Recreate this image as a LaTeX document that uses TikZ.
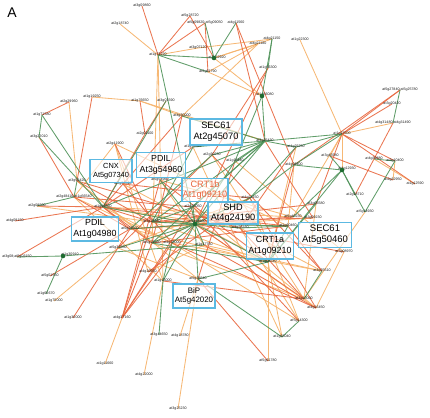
\documentclass[tikz,border=0pt]{standalone}
\usepackage{fontspec}
\setmainfont{Liberation Sans}
\definecolor{cred}{HTML}{E8673F}
\definecolor{corange}{HTML}{F6B46E}
\definecolor{cgreen}{HTML}{4F9259}
\definecolor{dotgreen}{HTML}{1E6B30}
\definecolor{boxblue}{HTML}{5CB9E2}
\pgfdeclarelayer{edges}
\pgfsetlayers{edges,main}
\tikzset{
 lbl/.style={font=\fontsize{3.6}{4}\selectfont, inner sep=0pt, text=black!90},
 hubdot/.style={circle, fill=dotgreen, inner sep=0pt, minimum size=4.6pt},
 pbox/.style={draw=boxblue, line width=1.3pt, align=center, inner sep=0pt, fill=white, fill opacity=0.6, text opacity=1},
 er/.style={cred, line width=0.85pt, opacity=0.9},
 eo/.style={corange, line width=0.85pt, opacity=0.95},
 eg/.style={cgreen, line width=0.85pt, opacity=0.9},
}
\begin{document}
\begin{tikzpicture}[x=1pt,y=-1pt]
\useasboundingbox (0,0) rectangle (430,417);
\node[font=\fontsize{14}{14}\selectfont] (panel) at (12,13) {A};
% labels (top)
\node[lbl] (a) at (142,6) {at3g09860};
\node[lbl] (b) at (120,24) {at2g18740};
\node[lbl] (c) at (190,16) {at5g28720};
\node[lbl] (d) at (205,23) {at5g09820;at5g09050};
\node[lbl] (e) at (236,23) {at4g11560};
\node[lbl] (f) at (158,55) {at1g71220};
\node[lbl] (g) at (198,48) {at3g07120};
\node[lbl] (hL) at (217,58) {at2g32920};
\node[hubdot] (h) at (214,58) {};
\node[lbl] (i) at (208,72) {at5g61790};
\node[lbl] (j) at (272,39) {at4g21150};
\node[lbl] (k) at (258,44) {at4g21180};
\node[lbl] (l) at (300,40) {at1g22300};
\node[lbl] (m) at (268,68) {at1g56300};
\node[lbl] (nL) at (265,95) {at1g56080};
\node[hubdot] (n) at (262,96) {};
% left
\node[lbl] (s) at (92,97) {at1g19250};
\node[lbl] (t) at (69,102) {at2g29960};
\node[lbl] (u) at (42,115) {at1g71580};
\node[lbl] (v) at (39,137) {at3g22010};
\node[lbl] (w) at (140,101) {at1g76650};
\node[lbl] (x) at (166,101) {at3g01590};
\node[lbl] (y) at (182,116) {at3g60000};
\node[lbl] (z) at (145,134) {at2g01100};
\node[lbl] (aa) at (193,147) {at1g30020};
\node[lbl] (ab) at (212,155) {at2g30230};
\node[lbl] (ac) at (235,161) {at1g15440};
\node[lbl] (ad) at (265,141) {at3g25430};
\node[lbl] (ae) at (160,180) {at5g54960};
\node[lbl] (af) at (115,144) {at2g41900};
\node[lbl] (ai) at (77,181) {at3g50420};
\node[lbl] (aj) at (123,184) {at5g07340};
\node[lbl] (ak) at (74,197) {at2g48410;at1g56540};
\node[lbl] (al) at (37,206) {at2g09500};
\node[lbl] (am) at (103,207) {at1g46550};
\node[lbl] (an) at (15,221) {at4g09150};
\node[lbl] (ao) at (152,222) {at3g28350};
\node[lbl] (ap) at (130,229) {at5g29550};
\node[lbl] (aqL) at (197,222) {at5g54600};
\node[hubdot] (aq) at (195,224) {};
\node[lbl] (ar) at (152,243) {at5g21030};
\node[lbl] (as) at (172,243) {at4g35000};
\node[lbl] (at) at (204,245) {at1g17750};
\node[lbl] (au) at (118,248) {at5g35550};
\node[lbl] (av) at (17,257) {at3g08;at5g03150};
\node[lbl] (awL) at (70,255) {at1g30910};
\node[hubdot] (aw) at (63,256) {};
\node[lbl] (ax) at (50,276) {at5g01550};
\node[lbl] (ay) at (148,272) {at4g20550};
\node[lbl] (az) at (193,207) {at2g35050};
\node[lbl] (ba) at (250,198) {at4g24150};
\node[lbl] (bb) at (240,228) {at3g55330};
\node[lbl] (bc) at (163,281) {at1g15000};
\node[lbl] (bd) at (198,279) {at5g38540};
% right / bottom
\node[lbl] (be) at (316,204) {at3g06580};
\node[lbl] (bf) at (365,212) {at5g14930};
\node[lbl] (bg) at (293,217) {at5g40230};
\node[lbl] (bh) at (288,226) {at1g60460};
\node[lbl] (bi) at (313,218) {at3g09230};
\node[lbl] (bj) at (344,252) {at3g08970};
\node[lbl] (bk) at (268,262) {at1g56540};
\node[lbl] (bl) at (322,271) {at4g25510};
\node[lbl] (bm) at (304,299) {at3g10000};
\node[lbl] (bn) at (316,308) {at4g16450};
\node[lbl] (bo) at (299,321) {at5g14300};
\node[lbl] (bp) at (282,337) {at1g65040};
\node[lbl] (bq) at (268,361) {at5g61780};
\node[lbl] (br) at (46,294) {at1g65670};
\node[lbl] (bs) at (54,301) {at1g75000};
\node[lbl] (bt) at (73,318) {at1g30000};
\node[lbl] (bu) at (122,318) {at4g37160};
\node[lbl] (bv) at (105,364) {at1g11660};
\node[lbl] (bw) at (144,375) {at4g22000};
\node[lbl] (bx) at (159,335) {at3g44650};
\node[lbl] (by) at (180,336) {at4g18780};
\node[lbl] (bz) at (178,409) {at3g25230};
\node[lbl] (o) at (400,90) {at5g27840;at5g25780};
\node[lbl] (p) at (392,104) {at3g20420};
\node[lbl] (q) at (393,123) {at4g31480;at4g31490};
\node[lbl] (r) at (342,134) {at1g27600};
\node[lbl] (ca) at (296,147) {at4g25250};
\node[lbl] (cb) at (330,156) {at3g45580};
\node[lbl] (cc) at (294,165) {at4g06400};
\node[lbl] (cdL) at (347,169) {at4g12930};
\node[hubdot] (cd) at (342,170) {};
\node[lbl] (ce) at (374,159) {at4g39880};
\node[lbl] (cf) at (395,161) {at3g10400};
\node[lbl] (cg) at (393,180) {at2g32950};
\node[lbl] (ch) at (415,184) {at1g12590};
\node[lbl] (ci) at (355,195) {at2g18710};
% boxes
\node[pbox, minimum width=52pt, minimum height=26pt, font=\fontsize{9.3}{11}\selectfont] (sec61a) at (216,132) {SEC61\\At2g45070};
\node[pbox, minimum width=49pt, minimum height=25pt, font=\fontsize{8.8}{10.5}\selectfont] (pdil3) at (161,165) {PDIL\\At3g54960};
\node[pbox, minimum width=42pt, minimum height=23pt, font=\fontsize{7.4}{9}\selectfont] (cnx) at (111,171) {CNX\\At5g07340};
\node[pbox, minimum width=46pt, minimum height=23pt, font=\fontsize{9.2}{10.5}\selectfont, text=cred] (crt1b) at (205,190) {CRT1b\\At1g09210};
\node[pbox, minimum width=50pt, minimum height=22pt, font=\fontsize{9.2}{10.5}\selectfont] (shd) at (233,213) {SHD\\At4g24190};
\node[pbox, minimum width=47pt, minimum height=24pt, font=\fontsize{8.9}{10.5}\selectfont] (pdil1) at (95,229) {PDIL\\At1g04980};
\node[pbox, minimum width=47pt, minimum height=26pt, font=\fontsize{8.9}{10.8}\selectfont] (crt1a) at (270,246) {CRT1a\\At1g09210};
\node[pbox, minimum width=53pt, minimum height=25pt, font=\fontsize{9.5}{11}\selectfont] (sec61b) at (325,235) {SEC61\\At5g50460};
\node[pbox, minimum width=42pt, minimum height=24pt, font=\fontsize{7.9}{9.5}\selectfont] (bip) at (194,296) {BiP\\At5g42020};
\begin{pgfonlayer}{edges}
\foreach \u/\v in {b/f,f/g,f/ar,g/j,h/k,i/k,h/n,i/n,h/j,l/r,q/r,s/w,t/ai,w/y,w/ad,y/ad,k/y,af/ak,af/ay,am/as,am/aq,am/bb,am/bg,ai/ar,ak/as,al/ao,ao/bk,ap/bk,ar/bm,as/bo,aq/bn,bb/bo,bc/bw,bu/bv,bd/bz,bd/by,bp/bk,bq/bk,bn/bj,ba/bo,r/cb,r/bg,r/cd,ce/ch,cf/cg,ac/bj,ab/bm,aa/bp,au/ba,ae/at,aj/bk,af/bc,f/bc,bs/au,ar/ba,as/bl,ao/bh,ap/bi,az/bn,at/bl,bb/bl,cc/bh,ca/bk,be/bm,bf/bm,au/bd,ay/at,ae/bg,af/bh,ak/bc,ai/bd}
  \draw[eo] (\u.center) -- (\v.center);
\foreach \u/\v in {a/f,c/f,d/f,d/i,c/h,e/ad,e/cc,m/aq,m/ab,s/ai,t/u,v/ak,w/z,z/x,o/r,o/cc,p/r,q/ci,r/be,r/ch,cb/cg,r/cf,am/ao,am/ar,am/bh,am/ap,ai/ao,aj/as,ak/ap,al/am,an/am,av/am,ax/ap,bt/ap,bu/ao,bu/aq,bu/az,bu/ar,bu/as,bu/ae,aq/bm,as/bn,ar/bh,ay/ba,bb/bm,bq/bd,ad/bi,ba/bn,ab/bl,y/ar,ao/be,aa/am,z/am,af/ao,ae/bk,az/bo,at/bn,bc/bm,ap/bg,aj/ba,ai/bb,ao/bi,az/ak,aq/bj,cc/bk,ca/bb,ac/bd,bh/bl,ab/au,y/am}
  \draw[er] (\u.center) -- (\v.center);
\foreach \u/\v in {f/h,f/i,f/aq,e/h,d/h,j/n,n/ad,m/j,o/q,u/v,u/am,v/am,x/am,ad/ac,ad/ab,ad/aa,ad/y,ad/ao,ad/ar,ad/am,ad/aq,ad/az,ad/ca,ad/r,aq/am,aq/ao,aq/ap,aq/ar,aq/as,aq/at,aq/bk,aq/bb,aq/ba,aq/ae,aq/az,aq/bc,aq/bd,aq/au,aq/ac,aw/av,aw/br,aw/at,bc/bx,bm/bl,bp/bo,bp/bd,bk/bh,r/ca,r/cc,cd/cb,cd/bf,cd/ci,cd/bg,cd/cc,cf/bf,ce/cf,ak/ai,al/ak,bk/be,bk/cd,ba/cc,ba/ca,bb/bh,az/ao,as/bc,ar/bk,ab/ap,aa/ao,bd/bk,aq/bh,n/ac}
  \draw[eg] (\u.center) -- (\v.center);
\end{pgfonlayer}
\end{tikzpicture}
\end{document}
